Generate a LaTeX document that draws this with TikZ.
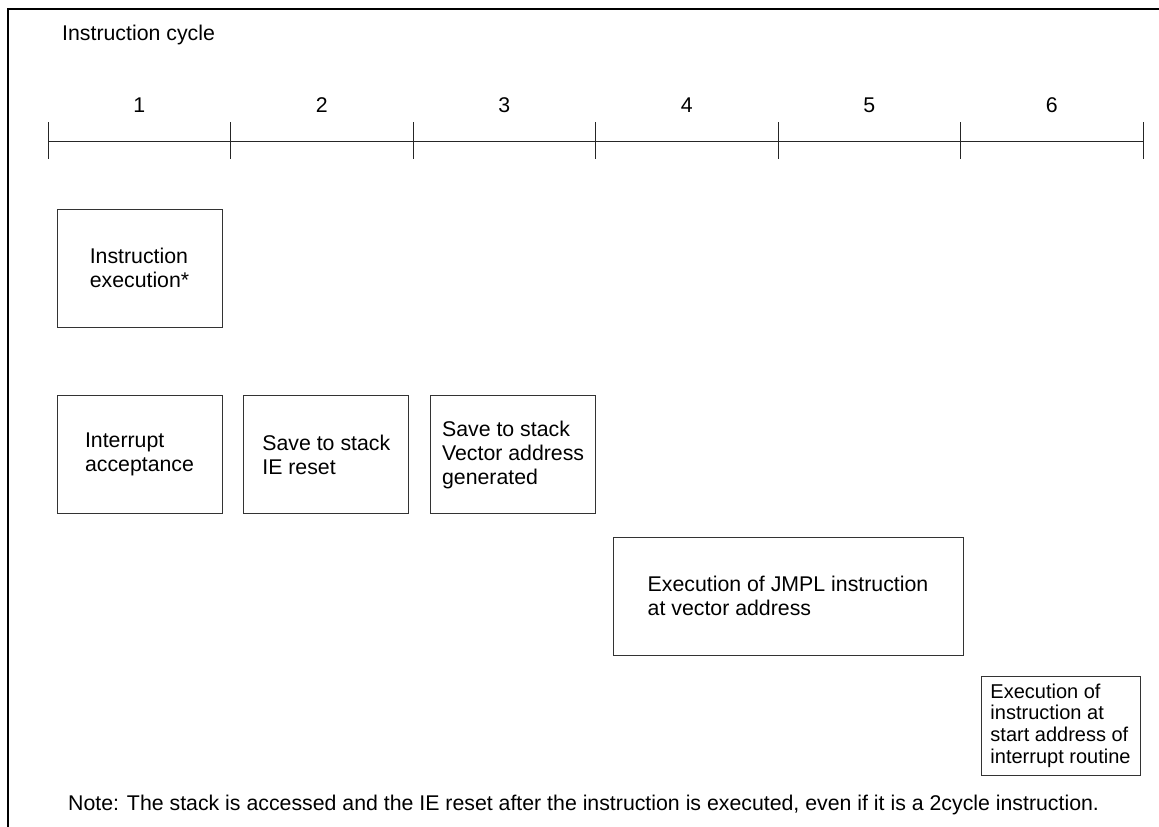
\documentclass[tikz,border=0pt]{standalone}
\usepackage{fontspec}
\setmainfont{Liberation Sans}
\usetikzlibrary{positioning}
\begin{document}
\begin{tikzpicture}[x=1pt,y=-1pt]
\tikzstyle{every node}=[font=\fontsize{21.3}{24}\selectfont]
\tikzstyle{stepbox}=[draw=black!80, line width=0.8pt, minimum width=165pt, minimum height=118pt, align=left, inner sep=0pt]
\useasboundingbox (0,0) rectangle (1159,827);
\draw [line width=2.2pt] (8,827) -- (8,9) -- (1159,9);% frame
\node [anchor=west, inner sep=0pt] (Title) at (62,35) {Instruction cycle};
\coordinate (AxisMin) at (48,141);
\coordinate (AxisMax) at (1143,141);
\draw [line width=1pt, black!85] (AxisMin) -- (AxisMax);% time axis
\foreach \i in {0,...,6}
  \draw [line width=1pt, black!85] (48+182.5*\i,122) -- (48+182.5*\i,159);
\foreach \i in {1,...,6}
  \node (Cycle\i) at (48+182.5*\i-91.25,105) {\i};
% cycle 1
\node [stepbox] (Exec) at (139.5,268) {Instruction\\execution*};
\node [stepbox, below=68pt of Exec] (Accept) {Interrupt\\acceptance};
% cycles 2 and 3
\node [stepbox, right=21pt of Accept] (SaveIE) {Save to stack\\IE reset};
\node [stepbox, right=21pt of SaveIE] (SaveVec) {Save to stack\\Vector address\\generated};
% cycles 4 and 5
\node [stepbox, minimum width=350pt] (Jmpl) at (788,596) {Execution of JMPL instruction\\at vector address};
% cycle 6
\node [stepbox, minimum width=159pt, minimum height=99pt, font=\fontsize{20}{21.7}\selectfont] (Routine) at (1060.5,725.5) {Execution of\\instruction at\\start address of\\interrupt routine};
\node [anchor=west, inner sep=0pt] (Note) at (68,805) {Note: The stack is accessed and the IE reset after the instruction is executed, even if it is a 2cycle instruction.};
\end{tikzpicture}
\end{document}
